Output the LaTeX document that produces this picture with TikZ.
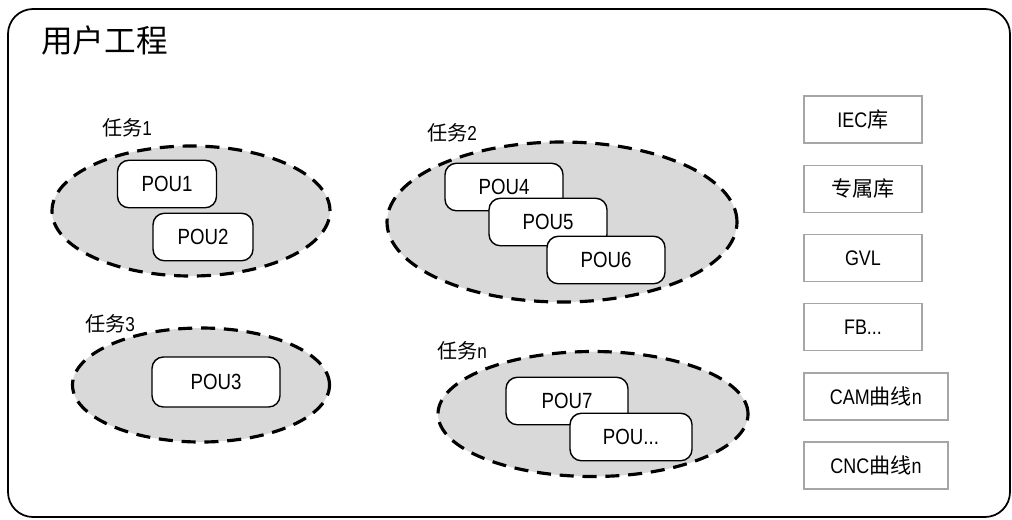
\documentclass[tikz,border=0pt]{standalone}
\usepackage{fontspec}
\setmainfont{Liberation Sans}[FakeStretch=0.85]
\newfontfamily\cjk{Noto Sans CJK SC}
\usetikzlibrary{shapes.geometric}

\begin{document}
\begin{tikzpicture}[
        task/.style={ellipse, draw, fill=black!15, line width=1.8pt, dash pattern=on 8pt off 5pt, inner sep=0pt},
        pou/.style={draw, fill=white, rounded corners=6.5pt, line width=0.8pt, minimum height=0.95cm, font=\fontsize{12.5}{14}\selectfont},
        lib/.style={draw=black!35, line width=1.1pt, minimum height=0.94cm, anchor=west, font=\fontsize{12}{14}\selectfont},
        tasklabel/.style={font=\fontsize{11.5}{13}\selectfont}]
        \useasboundingbox (0,0) rectangle (20.24,-10.38);
        \draw[line width=1pt, rounded corners=0.5cm] (0.16,-0.18) rectangle (20.2,-10.34);
        \node[anchor=west, font=\fontsize{18}{20}\selectfont\cjk] (project) at (0.7,-0.8) {用户工程};

        % task 1
        \node[task, minimum width=5.56cm, minimum height=2.6cm] (task1) at (3.82,-4.22) {};
        \node[tasklabel] (task1lbl) at (2.54,-2.56) {{\cjk 任务}1};
        \node[pou, minimum width=1.98cm] (pou1) at (3.34,-3.68) {POU1};
        \node[pou, minimum width=2.0cm] (pou2) at (4.06,-4.74) {POU2};

        % task 2
        \node[task, minimum width=7.0cm, minimum height=3.2cm] (task2) at (11.24,-4.44) {};
        \node[tasklabel] (task2lbl) at (9.04,-2.66) {{\cjk 任务}2};
        \node[pou, minimum width=2.36cm] (pou4) at (10.08,-3.74) {POU4};
        \node[pou, minimum width=2.36cm] (pou5) at (10.96,-4.44) {POU5};
        \node[pou, minimum width=2.36cm] (pou6) at (12.12,-5.2) {POU6};

        % task 3
        \node[task, minimum width=5.14cm, minimum height=2.28cm] (task3) at (4.02,-7.7) {};
        \node[tasklabel] (task3lbl) at (2.2,-6.48) {{\cjk 任务}3};
        \node[pou, minimum width=2.56cm, minimum height=1.0cm] (pou3) at (4.32,-7.64) {POU3};

        % task n
        \node[task, minimum width=6.2cm, minimum height=2.5cm] (taskn) at (11.86,-8.28) {};
        \node[tasklabel] (tasknlbl) at (9.24,-7.02) {{\cjk 任务}n};
        \node[pou, minimum width=2.44cm] (pou7) at (11.34,-8.02) {POU7};
        \node[pou, minimum width=2.44cm] (poumore) at (12.62,-8.74) {POU...};

        % libraries
        \node[lib, minimum width=2.36cm] (iec) at (16.06,-2.39) {IEC{\cjk 库}};
        \node[lib, minimum width=2.36cm] (own) at (16.06,-3.78) {\cjk 专属库};
        \node[lib, minimum width=2.36cm] (gvl) at (16.06,-5.16) {GVL};
        \node[lib, minimum width=2.36cm] (fb) at (16.06,-6.54) {FB...};
        \node[lib, minimum width=2.88cm] (cam) at (16.06,-7.93) {CAM{\cjk 曲线}n};
        \node[lib, minimum width=2.88cm] (cnc) at (16.06,-9.31) {CNC{\cjk 曲线}n};
    \end{tikzpicture}
\end{document}
